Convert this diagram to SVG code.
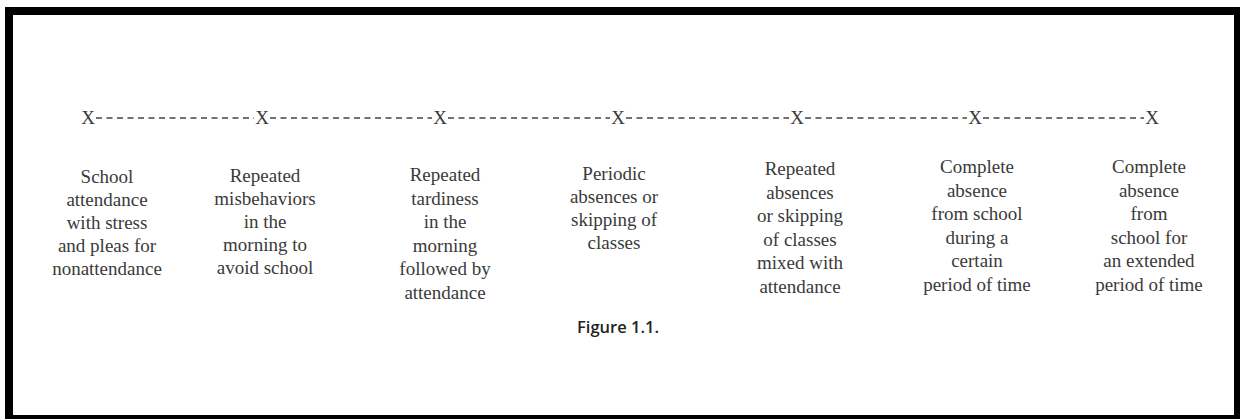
<svg xmlns="http://www.w3.org/2000/svg" width="1240" height="419" viewBox="0 0 1240 419">
<style>
.lbl{font-family:"Liberation Serif","DejaVu Serif",serif;font-size:19px;fill:#3a3a3a;text-anchor:middle}
.x{font-family:"Liberation Serif","DejaVu Serif",serif;font-size:19px;fill:#3a3a3a;text-anchor:middle}
.dash{stroke:#444;stroke-width:1.3;stroke-dasharray:6 4.5;fill:none}
.cap{font-family:"Open Sans","Liberation Sans",sans-serif;font-size:16.5px;font-weight:600;fill:#222;text-anchor:middle}
</style>
<rect width="1240" height="419" fill="#fff"/>
<path d="M5 7H1240V419H5Z M13 15V415H1234V15Z" fill="#000" fill-rule="evenodd"/>
<g id="connectors">
<line class="dash" x1="96" y1="118" x2="254" y2="118"/>
<line class="dash" x1="270" y1="118" x2="432" y2="118"/>
<line class="dash" x1="448" y1="118" x2="610" y2="118"/>
<line class="dash" x1="626" y1="118" x2="789" y2="118"/>
<line class="dash" x1="805" y1="118" x2="967" y2="118"/>
<line class="dash" x1="983" y1="118" x2="1144" y2="118"/>
</g>
<g id="n1"><text class="x" x="88" y="124">X</text>
<text class="lbl" y="183"><tspan x="107">School</tspan><tspan x="107" dy="23">attendance</tspan><tspan x="107" dy="23">with stress</tspan><tspan x="107" dy="23">and pleas for</tspan><tspan x="107" dy="23">nonattendance</tspan></text></g>
<g id="n2"><text class="x" x="262" y="124">X</text>
<text class="lbl" y="182"><tspan x="265">Repeated</tspan><tspan x="265" dy="23">misbehaviors</tspan><tspan x="265" dy="23">in the</tspan><tspan x="265" dy="23">morning to</tspan><tspan x="265" dy="23">avoid school</tspan></text></g>
<g id="n3"><text class="x" x="440" y="124">X</text>
<text class="lbl" y="181"><tspan x="445">Repeated</tspan><tspan x="445" dy="23.5">tardiness</tspan><tspan x="445" dy="23.5">in the</tspan><tspan x="445" dy="23.5">morning</tspan><tspan x="445" dy="23.5">followed by</tspan><tspan x="445" dy="23.5">attendance</tspan></text></g>
<g id="n4"><text class="x" x="618" y="124">X</text>
<text class="lbl" y="180"><tspan x="614">Periodic</tspan><tspan x="614" dy="23">absences or</tspan><tspan x="614" dy="23">skipping of</tspan><tspan x="614" dy="23">classes</tspan></text></g>
<g id="n5"><text class="x" x="797" y="124">X</text>
<text class="lbl" y="175"><tspan x="800">Repeated</tspan><tspan x="800" dy="23.5">absences</tspan><tspan x="800" dy="23.5">or skipping</tspan><tspan x="800" dy="23.5">of classes</tspan><tspan x="800" dy="23.5">mixed with</tspan><tspan x="800" dy="23.5">attendance</tspan></text></g>
<g id="n6"><text class="x" x="975" y="124">X</text>
<text class="lbl" y="173"><tspan x="977">Complete</tspan><tspan x="977" dy="23.5">absence</tspan><tspan x="977" dy="23.5">from school</tspan><tspan x="977" dy="23.5">during a</tspan><tspan x="977" dy="23.5">certain</tspan><tspan x="977" dy="23.5">period of time</tspan></text></g>
<g id="n7"><text class="x" x="1152" y="124">X</text>
<text class="lbl" y="173"><tspan x="1149">Complete</tspan><tspan x="1149" dy="23.5">absence</tspan><tspan x="1149" dy="23.5">from</tspan><tspan x="1149" dy="23.5">school for</tspan><tspan x="1149" dy="23.5">an extended</tspan><tspan x="1149" dy="23.5">period of time</tspan></text></g>
<text class="cap" x="618" y="333">Figure 1.1.</text>
</svg>
